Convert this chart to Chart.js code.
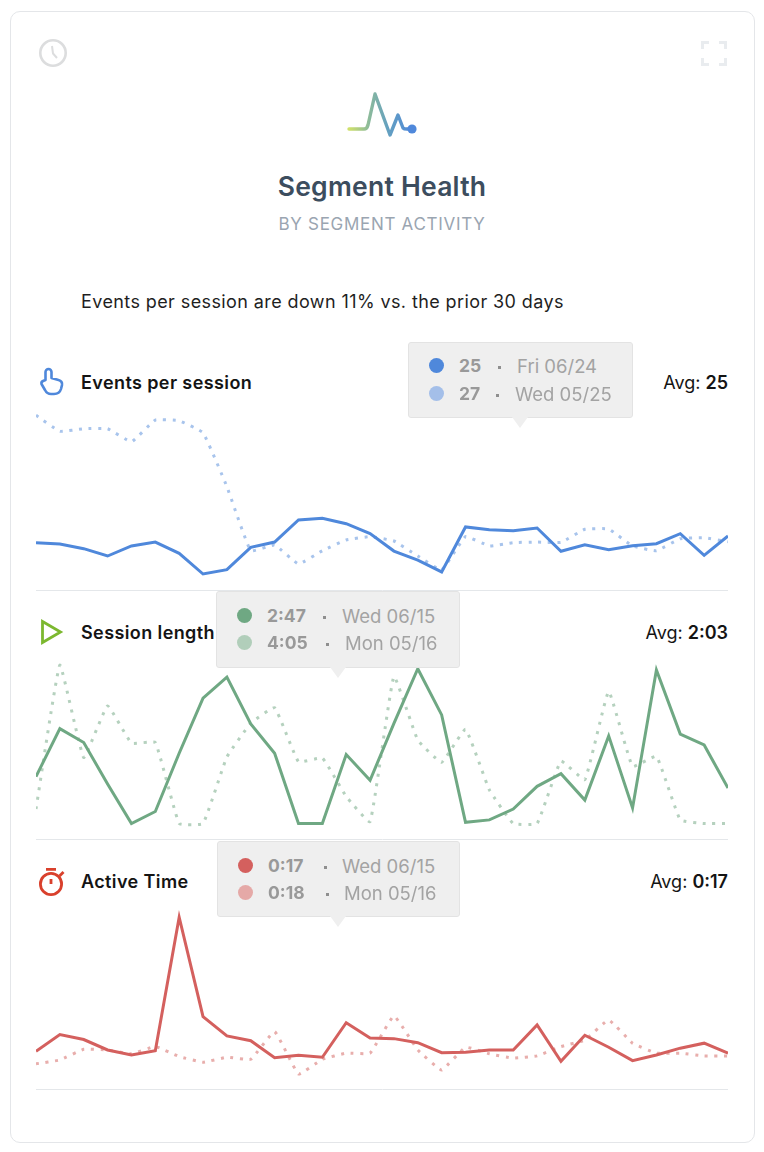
<!DOCTYPE html>
<html>
<head>
<meta charset="utf-8">
<title>Segment Health</title>
<script src="https://cdn.jsdelivr.net/npm/chart.js@4"></script>
<style>
  html, body { margin: 0; padding: 0; background: #fff; }
  body { width: 764px; height: 1152px; position: relative; overflow: hidden;
         font-family: Inter, "Noto Sans", sans-serif; color: #1a1a1a; }
  .card { position: absolute; left: 9.5px; top: 10.5px; width: 745px; height: 1132px;
          border: 1px solid #e4e6e9; border-radius: 10px; box-sizing: border-box; }
  .abs { position: absolute; white-space: nowrap; }
  canvas { position: absolute; left: 36px; z-index: 1; }
  #title { left: 0; width: 764px; top: 170px; text-align: center; font-size: 26.5px; line-height: 32px;
           font-weight: 600; color: #3c4d5e; letter-spacing: 0.25px; }
  #subtitle { left: 0; width: 764px; top: 214px; text-align: center; font-size: 17px; line-height: 20px;
              color: #9aa5b1; letter-spacing: 0.7px; }
  #summary { left: 81px; top: 291px; font-size: 18px; line-height: 22px; color: #1f1f1f; letter-spacing: 0.4px; }
  .label { left: 81px; font-size: 18px; line-height: 22px; font-weight: 600; color: #141414; z-index: 1; letter-spacing: 0.4px; }
  .avg { right: 36px; font-size: 18px; line-height: 22px; color: #141414; z-index: 1; }
  .avg b { font-weight: 600; }
  .tip { position: absolute; z-index: 3; background: #efefef; border: 1px solid #e3e3e3; border-radius: 3px;
         box-sizing: border-box; }
  .tip::after { content: ""; position: absolute; top: 100%; left: var(--arrow); margin-left: -8px;
                border-left: 8px solid transparent; border-right: 8px solid transparent;
                border-top: 11px solid #efefef; }
  .row { position: absolute; left: 0; height: 28px; line-height: 28px; font-size: 18.5px; color: #a3a3a3; white-space: nowrap; }
  .row i { position: absolute; left: 20px; top: 6px; width: 15px; height: 15px; border-radius: 50%; }
  .row b { position: absolute; font-weight: 700; color: #999; font-size: 17.5px; }
  .row u { position: absolute; top: 14px; width: 3px; height: 3px; background: #8f8f8f; text-decoration: none; }
  .row span { position: absolute; }
</style>
</head>
<body>
<div class="card"></div>

<!-- clock -->
<svg class="abs" style="left:38px;top:38px" width="30" height="30" viewBox="0 0 30 30" fill="none" stroke="#dcddde" stroke-width="2.6">
  <circle cx="15" cy="15" r="12.7"/><path d="M14 8 L15 15.5 L19 20" stroke-width="2"/>
</svg>
<!-- expand -->
<svg class="abs" style="left:700px;top:40px" width="28" height="28" viewBox="0 0 28 28" fill="none" stroke="#e9ecef" stroke-width="3">
  <path d="M2.5 9 V2.5 H9 M19 2.5 H25.5 V9 M25.5 18 V24.5 H19 M9 24.5 H2.5 V18"/>
</svg>
<!-- pulse mark -->
<svg class="abs" style="left:340px;top:85px" width="84" height="60" viewBox="340 85 84 60" fill="none">
  <defs>
    <linearGradient id="pulse" gradientUnits="userSpaceOnUse" x1="349" y1="0" x2="414" y2="0">
      <stop offset="0" stop-color="#cfe06a"/><stop offset="0.3" stop-color="#8dbb9a"/>
      <stop offset="0.6" stop-color="#64a0c0"/><stop offset="1" stop-color="#4f88db"/>
    </linearGradient>
  </defs>
  <path d="M349 129 H364 Q367 129 368 125 L375 94 L390 135 L398 115 L403 128 Q404 129 407 129 H412" stroke="url(#pulse)" stroke-width="3.4" stroke-linecap="round" stroke-linejoin="round"/>
  <circle cx="412" cy="129" r="4.6" fill="#4f88db"/>
</svg>

<div id="title" class="abs">Segment Health</div>
<div id="subtitle" class="abs">BY SEGMENT ACTIVITY</div>
<div id="summary" class="abs">Events per session are down 11% vs. the prior 30 days</div>

<!-- pointer -->
<svg class="abs" style="left:38px;top:367px" width="28" height="30" viewBox="0 0 28 30" fill="none" stroke="#4f88db" stroke-width="2.6" stroke-linejoin="round" stroke-linecap="round">
  <path d="M7.5 13 V5 a3 3 0 0 1 6 0 V11 L20.5 13 Q24.5 14 24 18 L23 22 Q21.5 27 16 27 H13 Q9 27 7 23 L3.5 17 Q3 15 5 14 Z"/>
</svg>
<div class="abs label" style="top:372px">Events per session</div>
<div class="abs avg" style="top:372px">Avg: <b>25</b></div>

<!-- play -->
<svg class="abs" style="left:38px;top:617px" width="28" height="30" viewBox="0 0 28 30" fill="none" stroke="#7cb82f" stroke-width="2.8">
  <path d="M4.5 4.5 V25.5 L22.5 15 Z"/>
</svg>
<div class="abs label" style="top:622px">Session length</div>
<div class="abs avg" style="top:622px">Avg: <b>2:03</b></div>

<!-- stopwatch -->
<svg class="abs" style="left:37px;top:866px" width="30" height="31" viewBox="0 0 30 31" fill="none" stroke="#d9402c" stroke-width="2.8">
  <circle cx="14" cy="18" r="10.6"/><path d="M9 3.4 H19 M14 13 V18" /><path d="M22.5 10 L26.5 6"/>
</svg>
<div class="abs label" style="top:871px">Active Time</div>
<div class="abs avg" style="top:871px">Avg: <b>0:17</b></div>

<canvas id="eventsChart" width="692" height="192" style="top:400px"></canvas>
<canvas id="sessionChart" width="692" height="191" style="top:650px"></canvas>
<canvas id="activeChart" width="692" height="191" style="top:900px"></canvas>

<div class="tip" style="left:408px;top:342px;width:225px;height:76px;--arrow:111px">
  <div class="row" style="top:9px;width:100%"><i style="background:#4f88db"></i><b style="left:50px">25</b><u style="left:89px"></u><span style="left:108px">Fri 06/24</span></div>
  <div class="row" style="top:37px;width:100%"><i style="background:#a4bfe9"></i><b style="left:50px">27</b><u style="left:87px"></u><span style="left:106px">Wed 05/25</span></div>
</div>
<div class="tip" style="left:216px;top:591px;width:244px;height:77px;--arrow:121px">
  <div class="row" style="top:10px;width:100%"><i style="background:#6fa883"></i><b style="left:50px">2:47</b><u style="left:106px"></u><span style="left:125px">Wed 06/15</span></div>
  <div class="row" style="top:37px;width:100%"><i style="background:#b1ceba"></i><b style="left:50px">4:05</b><u style="left:109px"></u><span style="left:128px">Mon 05/16</span></div>
</div>
<div class="tip" style="left:217px;top:841px;width:243px;height:76px;--arrow:120px">
  <div class="row" style="top:10px;width:100%"><i style="background:#d4605e"></i><b style="left:50px">0:17</b><u style="left:106px"></u><span style="left:124px">Wed 06/15</span></div>
  <div class="row" style="top:37px;width:100%"><i style="background:#e5a9a7"></i><b style="left:50px">0:18</b><u style="left:108px"></u><span style="left:126px">Mon 05/16</span></div>
</div>

<script>
// Calendar days, one per point; the prior series runs over the 30 days before.
const currentDays = ["05/31","06/01","06/02","06/03","06/04","06/05","06/06","06/07","06/08","06/09","06/10","06/11","06/12","06/13","06/14","06/15","06/16","06/17","06/18","06/19","06/20","06/21","06/22","06/23","06/24","06/25","06/26","06/27","06/28","06/29"];

// Events per session
const eventsCurrent = [25.68,25.55,25.10,24.39,25.36,25.74,24.65,22.65,23.07,25.23,25.74,27.87,28.03,27.51,26.55,24.87,24.00,22.85,27.20,26.93,26.84,27.10,24.85,25.48,25,25.39,25.58,26.55,24.45,26.32];
const eventsPrior = [37.99,36.44,36.69,36.69,35.43,37.53,37.46,36.30,31.09,24.90,25.45,23.62,24.90,25.94,26.26,25.84,24.39,23.04,26.26,25.36,25.68,25.74,25.71,26.97,27,25.36,24.90,26.06,26.16,25.77];

// Session length, in seconds
const sessionCurrent = [78,158,135,66,0,20,117,209,244,166,117,0,0,115,72,167,258,181,2,6,24,62,83,39,146,26,256,149,131,59];
const sessionPrior = [24,264,110,196,134,135,0,0,111,167,193,103,109,45,3,245,139,102,157,56,0,0,104,73,220,95,112,6,0,0];

// Active time, in seconds
const activeCurrent = [16.44,17.18,16.96,16.50,16.28,16.47,22.35,17.97,17.12,16.91,16.16,16.27,16.18,17.70,17.03,17,16.82,16.38,16.40,16.50,16.50,17.60,16.00,17.15,16.62,16.03,16.28,16.58,16.80,16.36];
const activePrior = [15.89,16.06,16.53,16.50,16.33,16.65,16.21,15.96,16.18,16.09,17.31,15.44,16.09,16.36,16.36,18,16.50,15.62,16.62,16.33,16.14,16.24,16.65,16.94,17.82,16.80,16.36,16.36,16.24,16.24];

function drawPanel(id, current, prior, solid, faded, min, max) {
  new Chart(document.getElementById(id), {
    type: "line",
    data: {
      labels: currentDays,
      datasets: [
        { label: "Current 30 days", data: current, borderColor: solid, borderWidth: 3, pointRadius: 0,
          tension: 0, borderJoinStyle: "miter", clip: 0 },
        { label: "Prior 30 days", data: prior, borderColor: faded, borderWidth: 3, pointRadius: 0,
          tension: 0.1, borderDash: [3, 6.6], clip: 0 }
      ]
    },
    options: {
      responsive: false,
      animation: false,
      devicePixelRatio: 1,
      // leaves a sliver below the plot so the axis line stays on the canvas
      layout: { padding: { bottom: 2 } },
      plugins: { legend: { display: false }, tooltip: { enabled: false } },
      scales: {
        x: { offset: false, grid: { color: "transparent", drawTicks: false }, ticks: { display: false },
             border: { display: true, color: "#e4e7ea", width: 1 } },
        y: { display: false, min: min, max: max }
      }
    }
  });
}

drawPanel("eventsChart", eventsCurrent, eventsPrior, "#4f88db", "#a8c4ec", 21.106, 39.464);
drawPanel("sessionChart", sessionCurrent, sessionPrior, "#6fa883", "#b5d1be", -25.83, 289.17);
drawPanel("activeChart", activeCurrent, activePrior, "#d4605e", "#e8aeac", 14.78, 23.11);
</script>
</body>
</html>
